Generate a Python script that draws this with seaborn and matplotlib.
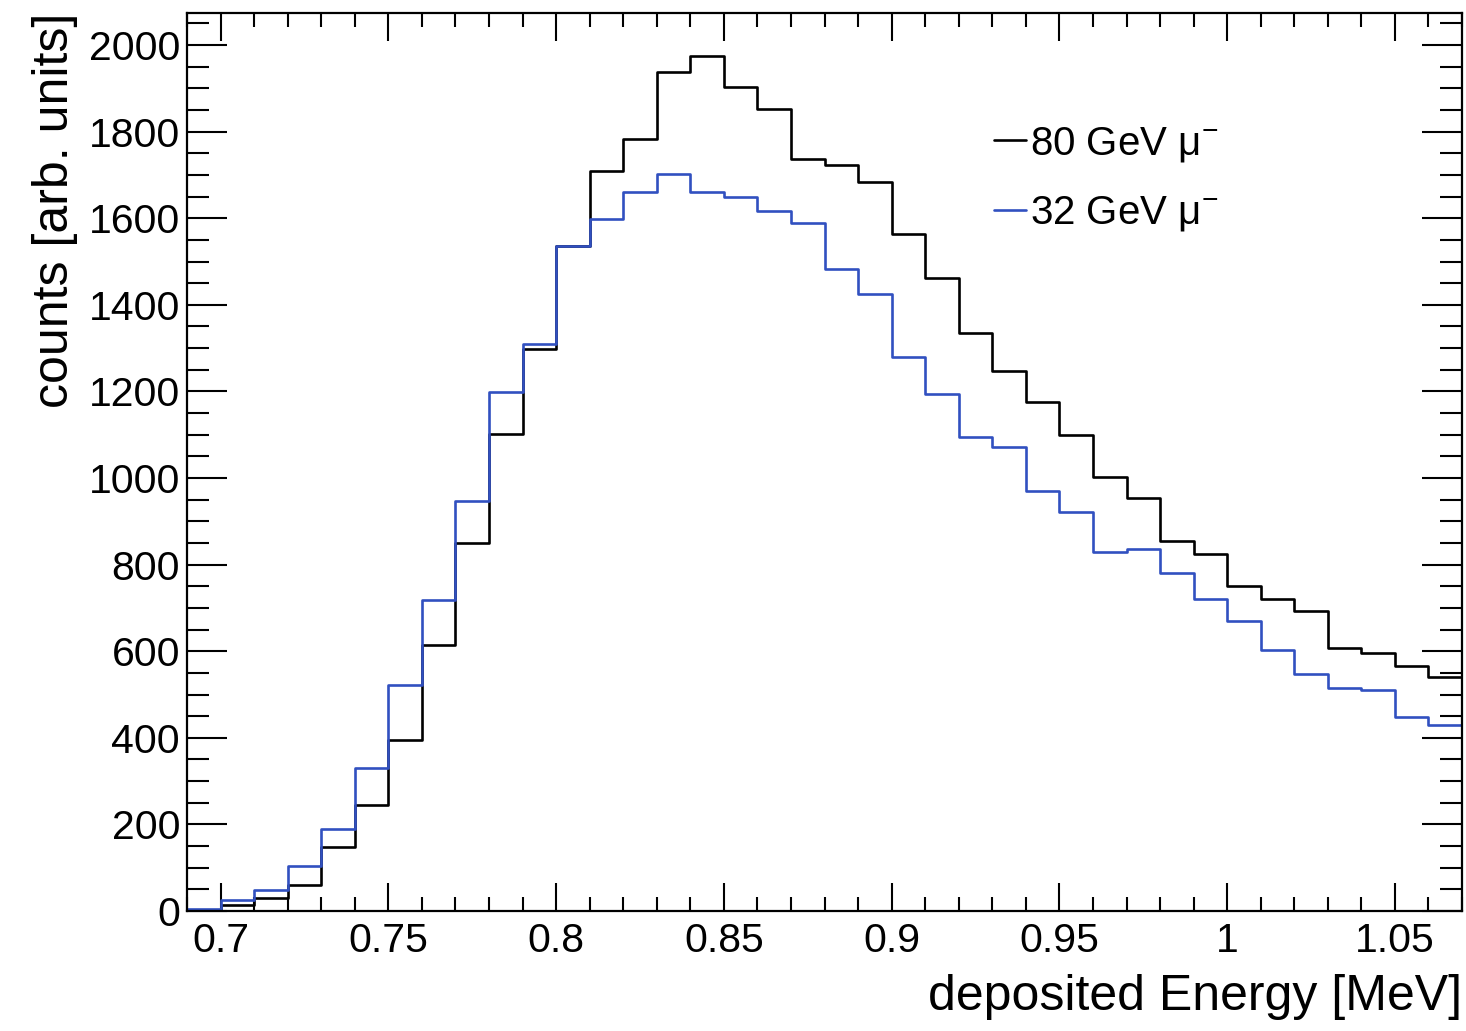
import numpy as np
import pandas as pd
import seaborn as sns
import matplotlib.pyplot as plt
from matplotlib.ticker import MultipleLocator, FuncFormatter

# histogram contents, 0.01 MeV bins from 0.69 to 1.07 MeV
bin_low = 0.69
bin_high = 1.07
counts_80gev = [2, 14, 31, 61, 147, 245, 395, 615, 849, 1102,
                1299, 1536, 1709, 1784, 1938, 1975, 1902, 1852, 1737, 1723,
                1684, 1563, 1463, 1334, 1248, 1175, 1100, 1002, 953, 854,
                825, 750, 720, 694, 607, 596, 565, 540]
counts_32gev = [4, 25, 49, 105, 190, 331, 522, 719, 947, 1199,
                1310, 1536, 1599, 1661, 1703, 1661, 1648, 1617, 1588, 1483,
                1426, 1280, 1194, 1094, 1071, 971, 921, 830, 837, 780,
                720, 670, 602, 548, 516, 510, 447, 429]
labels = ["80 GeV μ$^{-}$", "32 GeV μ$^{-}$"]
colors = ["black", "#3150c0"]

edges = np.linspace(bin_low, bin_high, len(counts_80gev) + 1)
centers = (edges[:-1] + edges[1:]) / 2
df = pd.DataFrame({
    "energy": np.concatenate([centers, centers]),
    "counts": counts_80gev + counts_32gev,
    "beam": [labels[0]] * len(centers) + [labels[1]] * len(centers),
})

sns.set_style("ticks")
plt.rcParams["font.family"] = ["Liberation Sans", "DejaVu Sans"]
plt.rcParams["mathtext.fontset"] = "custom"
plt.rcParams["mathtext.rm"] = "Liberation Sans"
plt.rcParams["mathtext.it"] = "Liberation Sans"
plt.rcParams["text.color"] = "black"
plt.rcParams["axes.labelcolor"] = "black"
plt.rcParams["xtick.color"] = "black"
plt.rcParams["ytick.color"] = "black"

fig = plt.figure(figsize=(14.66, 10.31), dpi=100)
ax = fig.add_axes([0.1276, 0.1164, 0.8697, 0.871])

for lab, col in zip(labels, colors):
    sub = df[df["beam"] == lab]
    sns.histplot(data=sub, x="energy", weights="counts", bins=list(edges),
                 element="step", fill=False, color=col, linewidth=1.9,
                 label=lab, ax=ax)

ax.set_xlim(bin_low, bin_high)
ax.set_ylim(0, 2074)
ax.xaxis.set_major_locator(MultipleLocator(0.05))
ax.xaxis.set_minor_locator(MultipleLocator(0.01))
ax.yaxis.set_major_locator(MultipleLocator(200))
ax.yaxis.set_minor_locator(MultipleLocator(50))
ax.xaxis.set_major_formatter(FuncFormatter(lambda v, p: "%g" % round(v, 3)))

ax.tick_params(which="both", direction="in", top=True, right=True,
               labelsize=29.5, width=1.5, color="black", labelcolor="black")
ax.tick_params(axis="x", which="major", length=20, pad=8)
ax.tick_params(axis="x", which="minor", length=10)
ax.tick_params(axis="y", which="major", length=29, pad=5)
ax.tick_params(axis="y", which="minor", length=16)
for s in ax.spines.values():
    s.set_linewidth(1.6)
    s.set_color("black")

ax.set_xlabel("deposited Energy [MeV]", fontsize=36, loc="right", labelpad=10)
ax.set_ylabel("counts [arb. units]", fontsize=36, loc="top", labelpad=8)

leg = ax.legend(loc="upper left", bbox_to_anchor=(0.62, 0.894), frameon=False,
                fontsize=29, handlelength=0.8, handletextpad=0.1,
                labelspacing=0.75, borderaxespad=0)

fig.savefig("out.png", dpi=100)
